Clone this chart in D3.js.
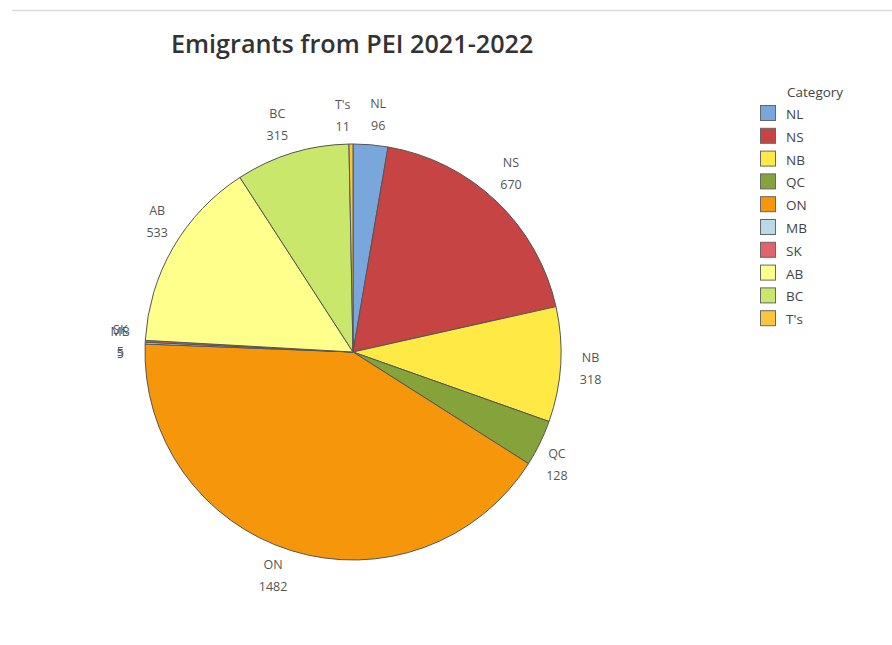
<!DOCTYPE html>
<html><head><meta charset="utf-8">
<script src="https://cdn.jsdelivr.net/npm/d3@7"></script>
<style>body{margin:0;background:#fff;} svg{display:block;}</style>
</head><body>
<svg id="c" width="892" height="645"></svg>
<script>
const categories = ["NL","NS","NB","QC","ON","MB","SK","AB","BC","T's"];
const values = [96,670,318,128,1482,5,5,533,315,11];
const colors = ["#79a6db","#c64444","#ffe945","#86a23a","#f6960a","#b8d9e6","#e0626a","#ffff8c","#c9e76a","#fcc540"];
const title = "Emigrants from PEI 2021-2022";
const legendTitle = "Category";

const svg = d3.select("#c");
const font = "'Open Sans', 'Noto Sans', sans-serif";
svg.append("line").attr("x1",12).attr("x2",892).attr("y1",10.5).attr("y2",10.5)
  .attr("stroke","#dcdcdc").attr("stroke-width",1.5);
svg.append("text").attr("x",171).attr("y",53).text(title)
  .attr("font-family",font).attr("font-size",25.2).attr("font-weight",600).attr("fill","#333");

const cx=353, cy=352, R=208;
const data = categories.map((c,i)=>({cat:c,val:values[i],col:colors[i]}));
const pie = d3.pie().value(d=>d.val).sort(null);
const arcs = pie(data);
const arc = d3.arc().innerRadius(0).outerRadius(R);
const lab = d3.arc().innerRadius(238).outerRadius(238);
const g = svg.append("g").attr("transform",`translate(${cx},${cy})`);
g.selectAll("path").data(arcs).join("path").attr("d",arc)
  .attr("fill",d=>d.data.col).attr("stroke","#555").attr("stroke-width",1);

const nudge = {"NL":[5,-3],"NS":[-6,-8],"QC":[-10,6],"ON":[-9,-6],"AB":[10,-14],"BC":[-6,-2],
  "T's":[-8,-1],"MB":[5,-2],"SK":[5,-2]};
const lg = g.selectAll("g.l").data(arcs).join("g").attr("class","l")
  .attr("transform",d=>{const [x,y]=lab.centroid(d); const n=nudge[d.data.cat]||[0,0]; return `translate(${x+n[0]},${y+n[1]})`;});
lg.append("text").attr("text-anchor","middle").attr("y",-4).text(d=>d.data.cat)
  .attr("font-family",font).attr("font-size",12.5).attr("fill","#555");
lg.append("text").attr("text-anchor","middle").attr("y",18).text(d=>d.data.val)
  .attr("font-family",font).attr("font-size",12.5).attr("fill","#555");

const leg = svg.append("g").attr("transform","translate(760,0)");
leg.append("text").attr("x",27).attr("y",97).text(legendTitle)
  .attr("font-family",font).attr("font-size",13.5).attr("fill","#444");
const li = leg.selectAll("g.i").data(data).join("g").attr("class","i")
  .attr("transform",(d,i)=>`translate(0,${105+i*22.8})`);
li.append("rect").attr("x",0.5).attr("y",0.5).attr("width",15).attr("height",15)
  .attr("fill",d=>d.col).attr("stroke","#666").attr("stroke-width",1);
li.append("text").attr("x",26).attr("y",14).text(d=>d.cat)
  .attr("font-family",font).attr("font-size",13.5).attr("fill","#444");
</script>
</body></html>
